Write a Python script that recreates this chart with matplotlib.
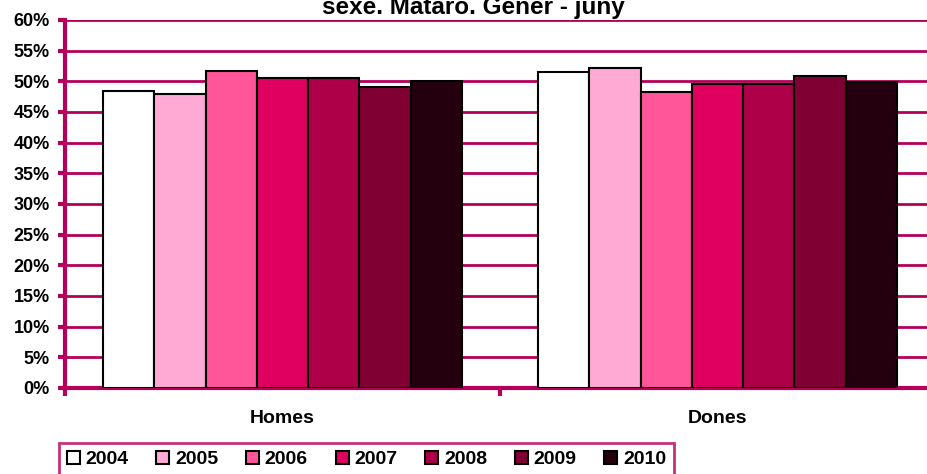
import numpy as np
import matplotlib.pyplot as plt
from matplotlib.ticker import PercentFormatter

plt.rcParams['font.family'] = ['Liberation Sans', 'DejaVu Sans']

categories = ['Homes', 'Dones']
years = ['2004', '2005', '2006', '2007', '2008', '2009', '2010']
homes = [48.4, 47.9, 51.7, 50.5, 50.5, 49.1, 50.1]
dones = [51.6, 52.1, 48.3, 49.5, 49.5, 50.9, 49.9]
colors = ['#FFFFFF', '#FFAAD4', '#FF5599', '#E0005F', '#AD0049', '#800033', '#24000F']

crimson = '#B4005A'

fig = plt.figure(figsize=(9.28, 4.74), dpi=100)
ax = fig.add_axes([65 / 928, 1 - 388 / 474, 870 / 928, 368 / 474])

n = len(years)
group_w = 359 / 435
w = group_w / n
x = np.arange(len(categories))
for i, yr in enumerate(years):
    vals = [homes[i], dones[i]]
    ax.bar(x - group_w / 2 + w * (i + 0.5), vals, w, color=colors[i],
           edgecolor='black', linewidth=1.5, label=yr, zorder=3)

ax.set_ylim(0, 60)
ax.set_xlim(-0.5, 1.5)
ax.set_yticks(np.arange(0, 61, 5))
ax.yaxis.set_major_formatter(PercentFormatter(decimals=0))
ax.yaxis.grid(True, color=crimson, linewidth=2, zorder=0)
ax.set_xticks([-0.5, 0.5], minor=False)
ax.set_xticklabels([])
ax.set_xticks(x, minor=True)
ax.set_xticklabels(categories, minor=True, fontsize=14, fontweight='bold')
ax.tick_params(axis='x', which='minor', length=0, pad=16)
ax.tick_params(axis='x', which='major', length=6, width=3, color=crimson, direction='out')
ax.tick_params(axis='y', length=5, width=3, color=crimson, labelsize=13, pad=6)
for lab in ax.get_yticklabels():
    lab.set_fontweight('bold')

for side in ['top', 'right']:
    ax.spines[side].set_visible(False)
for side in ['left', 'bottom']:
    ax.spines[side].set_color(crimson)
    ax.spines[side].set_linewidth(3)

fig.text(473 / 928, 1 - 14 / 474, 'sexe. Mataró. Gener - juny', ha='center', va='baseline',
         fontsize=17.5, fontweight='bold')

leg = fig.legend(loc='upper left', bbox_to_anchor=(59 / 928, 1 - 443 / 474), ncol=7,
                 frameon=True, fancybox=False, handlelength=0.67, handleheight=0.67,
                 handletextpad=0.3, columnspacing=1.42, borderpad=0.4, borderaxespad=0,
                 prop={'weight': 'bold', 'size': 14})
leg.get_frame().set_edgecolor(crimson)
leg.get_frame().set_linewidth(2)

fig.savefig('out.png', dpi=100)
